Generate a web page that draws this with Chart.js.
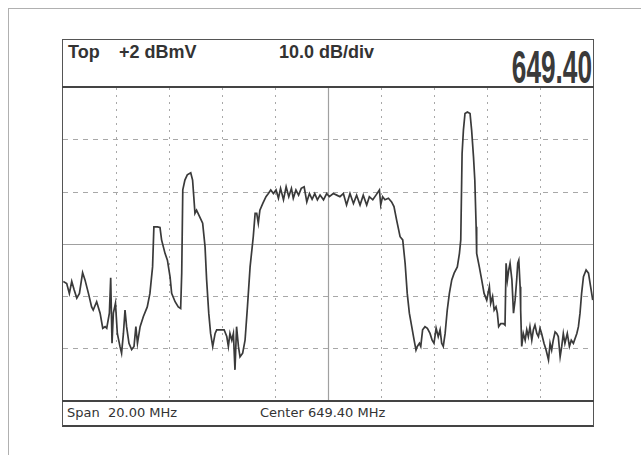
<!DOCTYPE html>
<html lang="en">

<head>
    <meta charset="UTF-8">
    <style>
        body { margin: 0; width: 641px; height: 455px; background: #fff; position: relative; overflow: hidden; font-family: "Liberation Sans", Arial, sans-serif; color: #333; }
        .abs { position: absolute; }
        .hdr { font-weight: bold; font-size: 18px; line-height: 18px; top: 43px; white-space: pre; }
        .ftr { font-family: "DejaVu Sans", sans-serif; font-size: 13px; line-height: 13px; top: 406px; white-space: pre; }
    </style>
</head>

<body>
    <!-- outer frame (only top and left edges show) -->
    <div class="abs" style="left:8px; top:8px; width:640px; height:450px; border-left:1px solid #b0b0b0; border-top:1px solid #b0b0b0;"></div>

    <!-- instrument panel -->
    <div class="abs" style="left:62px; top:39px; width:530px; height:385px; border:1px solid #555; border-bottom:2px solid #444;"></div>
    <div class="abs" style="left:62px; top:86px; width:532px; height:2px; background:#444;"></div>
    <div class="abs" style="left:62px; top:400px; width:532px; height:2px; background:#444;"></div>

    <div class="abs hdr" style="left:68px;">Top</div>
    <div class="abs hdr" style="left:119px;">+2 dBmV</div>
    <div class="abs hdr" style="left:279px;">10.0 dB/div</div>
    <div class="abs" style="left:392px; top:44px; width:200px; text-align:right; font-weight:bold; font-size:46px; line-height:46px; transform:scaleX(0.57); transform-origin:right center; color:#3a3a3a;">649.40</div>

    <div class="abs ftr" style="left:67px;">Span  20.00 MHz</div>
    <div class="abs ftr" style="left:260px;">Center 649.40 MHz</div>

    <div class="abs" style="left:63px; top:88px; width:530px; height:312px;">
        <canvas id="trace" width="530" height="312"></canvas>
    </div>

    <script src="https://cdn.jsdelivr.net/npm/chart.js"></script>

    <script>
        // sweep settings
        const centerMHz = 649.40;
        const spanMHz = 20.0;
        const topDbmv = 2;
        const dbPerDiv = 10;
        const xTicks = [639.4, 641.4, 643.4, 645.4, 647.4, 649.4, 651.4, 653.4, 655.4, 657.4, 659.4];
        const yTicks = [2, -8, -18, -28, -38, -48, -58];

        // trace
        const freqMHz = [
            639.41, 639.54, 639.64, 639.73, 639.82, 639.92, 640.02, 640.14, 640.23, 640.36,
            640.48, 640.54, 640.67, 640.80, 640.90, 640.99, 641.05, 641.15, 641.20, 641.25,
            641.30, 641.38, 641.45, 641.55, 641.61, 641.68, 641.74, 641.80, 641.89, 641.99,
            642.08, 642.15, 642.21, 642.31, 642.43, 642.58, 642.68, 642.78, 642.83, 642.96,
            643.06, 643.12, 643.25, 643.34, 643.44, 643.50, 643.63, 643.75, 643.84, 643.88,
            643.92, 644.00, 644.09, 644.22, 644.29, 644.38, 644.44, 644.55, 644.67, 644.76,
            644.82, 644.90, 644.97, 645.05, 645.14, 645.20, 645.33, 645.48, 645.58, 645.64,
            645.70, 645.77, 645.83, 645.89, 645.95, 646.02, 646.08, 646.18, 646.27, 646.36,
            646.46, 646.58, 646.65, 646.71, 646.77, 646.83, 646.94, 647.06, 647.15, 647.24,
            647.34, 647.44, 647.53, 647.61, 647.72, 647.82, 647.92, 648.02, 648.09, 648.19,
            648.29, 648.39, 648.50, 648.60, 648.70, 648.80, 648.90, 649.00, 649.10, 649.23,
            649.35, 649.45, 649.60, 649.73, 649.85, 649.98, 650.10, 650.23, 650.36, 650.48,
            650.61, 650.73, 650.86, 650.96, 651.09, 651.21, 651.34, 651.39, 651.46, 651.55,
            651.68, 651.80, 651.89, 651.99, 652.12, 652.22, 652.31, 652.39, 652.47, 652.56,
            652.65, 652.72, 652.77, 652.85, 652.90, 652.97, 653.06, 653.15, 653.25, 653.33,
            653.40, 653.48, 653.56, 653.63, 653.69, 653.75, 653.82, 653.90, 653.98, 654.07,
            654.16, 654.28, 654.36, 654.41, 654.46, 654.51, 654.57, 654.66, 654.76, 654.82,
            654.89, 654.94, 654.99, 655.01, 655.11, 655.20, 655.29, 655.39, 655.49, 655.54,
            655.61, 655.67, 655.74, 655.79, 655.84, 655.92, 656.02, 656.08, 656.12, 656.17,
            656.22, 656.27, 656.34, 656.40, 656.46, 656.52, 656.56, 656.60, 656.65, 656.67,
            656.71, 656.77, 656.84, 656.90, 656.96, 657.02, 657.09, 657.15, 657.21, 657.28,
            657.34, 657.40, 657.46, 657.55, 657.63, 657.72, 657.78, 657.84, 657.90, 657.97,
            658.03, 658.09, 658.16, 658.22, 658.28, 658.34, 658.43, 658.51, 658.58, 658.66,
            658.79, 658.85, 658.91, 658.97, 659.04, 659.14, 659.23, 659.31, 659.39
        ];
        const levelDbmv = [
            -35.2, -35.6, -37.5, -35.2, -36.8, -38.4, -37.5, -33.5, -34.9, -37.5,
            -40.1, -40.7, -39.1, -41.3, -44.2, -43.9, -44.2, -41.3, -34.5, -47.1,
            -41.3, -39.4, -45.2, -47.7, -49.0, -45.2, -40.7, -43.9, -47.1, -48.3,
            -47.7, -43.9, -47.1, -43.9, -42.0, -40.1, -37.5, -32.4, -24.7, -24.7,
            -24.8, -27.2, -29.8, -31.1, -34.3, -37.5, -39.1, -40.1, -40.4, -33.6,
            -17.6, -15.7, -14.7, -14.3, -15.7, -22.1, -21.5, -22.7, -24.0, -28.5,
            -34.9, -41.3, -45.2, -47.7, -45.2, -44.5, -44.5, -44.5, -45.8, -47.7,
            -45.2, -46.5, -45.2, -52.2, -43.9, -47.7, -49.7, -49.0, -46.5, -40.1,
            -32.4, -26.6, -22.1, -22.1, -24.0, -21.5, -20.2, -18.9, -18.3, -17.6,
            -18.3, -17.6, -19.2, -17.3, -19.5, -17.0, -18.9, -17.3, -19.2, -17.6,
            -18.6, -17.3, -17.0, -19.9, -18.3, -19.4, -18.3, -19.5, -18.6, -19.5,
            -18.3, -18.9, -18.3, -18.6, -18.9, -18.3, -20.5, -18.3, -20.2, -18.6,
            -20.5, -18.6, -20.5, -18.9, -19.5, -18.6, -17.6, -20.5, -18.9, -19.5,
            -19.2, -19.9, -20.8, -23.4, -26.6, -27.2, -31.7, -37.5, -41.3, -43.9,
            -46.5, -48.4, -47.7, -47.1, -47.7, -44.5, -43.9, -44.2, -45.2, -46.5,
            -47.1, -44.2, -45.8, -44.5, -47.1, -47.7, -45.2, -40.7, -37.5, -34.9,
            -33.6, -32.4, -29.8, -27.2, -10.6, -6.1, -2.9, -2.6, -2.9, -6.1,
            -11.2, -15.7, -24.7, -29.8, -32.4, -34.9, -37.5, -38.8, -36.2, -39.4,
            -38.1, -40.7, -40.1, -41.3, -43.9, -43.3, -43.3, -43.6, -31.7, -34.9,
            -33.0, -31.7, -34.9, -41.3, -38.8, -34.9, -31.7, -31.1, -36.2, -40.7,
            -47.7, -45.2, -46.5, -44.5, -45.8, -43.9, -46.5, -44.5, -43.6, -45.2,
            -45.8, -44.2, -45.2, -47.1, -48.4, -50.3, -47.1, -48.4, -46.5, -44.9,
            -45.2, -45.8, -49.7, -47.7, -45.2, -47.1, -45.2, -47.7, -46.5, -47.1,
            -45.2, -43.9, -41.3, -37.5, -34.3, -33.0, -33.6, -36.2, -38.8
        ];

        const points = freqMHz.map((f, i) => ({ x: f, y: levelDbmv[i] }));

        const lastIdx = (n) => n - 1;
        const gridColor = (ctx) => (ctx.index === 0 || ctx.index === lastIdx(ctx.scale.ticks.length)) ? 'rgba(0,0,0,0)' : '#a8a8a8';

        // solid centre cross, drawn through the scales
        const centreLines = {
            id: 'centreLines',
            beforeDatasetsDraw(chart) {
                const { ctx, chartArea, scales } = chart;
                const cx = Math.round(scales.x.getPixelForValue(centerMHz)) + 0.5;
                const cy = Math.round(scales.y.getPixelForValue(topDbmv - 3 * dbPerDiv)) + 0.5;
                ctx.save();
                ctx.strokeStyle = '#a0a0a0';
                ctx.lineWidth = 1.2;
                ctx.beginPath();
                ctx.moveTo(cx, chartArea.top);
                ctx.lineTo(cx, chartArea.bottom);
                ctx.moveTo(chartArea.left, cy);
                ctx.lineTo(chartArea.right, cy);
                ctx.stroke();
                ctx.restore();
            }
        };

        new Chart(document.getElementById('trace'), {
            type: 'line',
            data: {
                datasets: [{
                    data: points,
                    borderColor: '#3a3a3a',
                    borderWidth: 1.7,
                    pointRadius: 0,
                    tension: 0
                }]
            },
            options: {
                responsive: false,
                animation: false,
                parsing: false,
                layout: { padding: 0 },
                plugins: { legend: { display: false }, tooltip: { enabled: false } },
                scales: {
                    x: {
                        type: 'linear',
                        min: centerMHz - spanMHz / 2,
                        max: centerMHz + spanMHz / 2,
                        afterBuildTicks: (s) => { s.ticks = xTicks.map(v => ({ value: v })); },
                        ticks: { display: false },
                        grid: { color: gridColor, lineWidth: 1, drawTicks: false },
                        border: { display: false, dash: [2, 5] }
                    },
                    y: {
                        min: topDbmv - 6 * dbPerDiv,
                        max: topDbmv,
                        afterBuildTicks: (s) => { s.ticks = yTicks.map(v => ({ value: v })); },
                        ticks: { display: false },
                        grid: { color: gridColor, lineWidth: 1, drawTicks: false },
                        border: { display: false, dash: [5, 5] }
                    }
                }
            },
            plugins: [centreLines]
        });
    </script>
</body>

</html>
